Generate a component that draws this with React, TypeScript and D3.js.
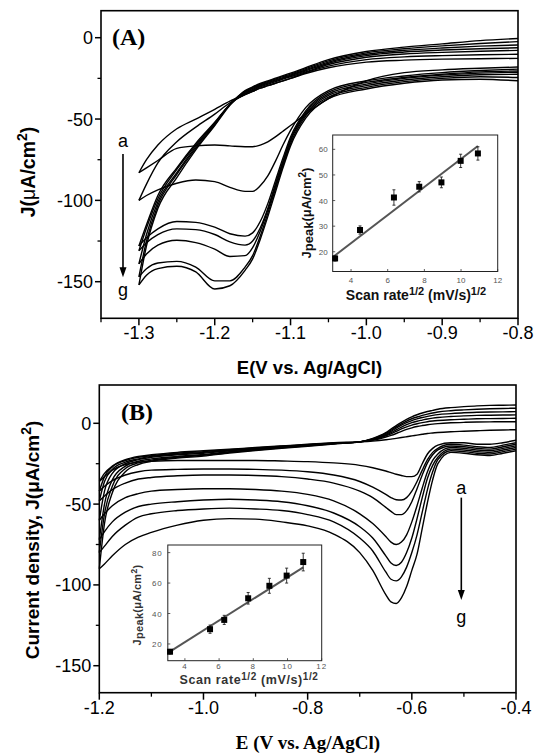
import React from 'react';
import * as d3 from 'd3';

// ---------- Panel A data ----------
const curveNames = ['a', 'b', 'c', 'd', 'e', 'f', 'g'];
const potentialA = [-1.3, -1.29, -1.275, -1.25, -1.225, -1.2, -1.18, -1.16, -1.15, -1.14, -1.13, -1.12, -1.11, -1.1, -1.08, -1.05, -1.0, -0.95, -0.9, -0.85, -0.8];
const forwardA = [
  [-83, -75, -66, -56, -50, -44, -39, -35, -33, -31, -29.5, -28, -26.5, -25, -22, -18.5, -15, -13.8, -13.2, -12.9, -12.7],
  [-100, -90, -77, -64, -55, -47, -40, -35, -33, -31, -29.5, -28, -26.5, -25, -21.5, -17.5, -13.5, -11.8, -11, -10.5, -10.2],
  [-128, -115, -97, -80, -65, -52, -41, -34.5, -32.3, -30.2, -28.6, -27, -25.5, -24, -21, -16.5, -12, -10, -9, -8.3, -7.8],
  [-131, -117, -99, -81, -66, -52.5, -41, -34, -31.8, -29.7, -28, -26.5, -25, -23.5, -20.3, -15.7, -11, -8.8, -7.6, -6.8, -6.2],
  [-139, -121, -101, -83, -67, -53, -41, -33.5, -31.2, -29.1, -27.5, -26, -24.5, -23, -19.7, -15, -10.2, -7.8, -6.3, -5.2, -4.5],
  [-147, -125, -103, -84, -68, -53.5, -41, -33, -30.7, -28.6, -27, -25.4, -23.9, -22.4, -19, -14.2, -9.3, -6.8, -5, -3.6, -2.4],
  [-152, -128, -105, -86, -69, -54, -41.5, -32.5, -30.2, -28.1, -26.5, -24.9, -23.3, -21.8, -18.4, -13.5, -8.5, -5.8, -3.8, -1.8, -0.5],
];
const reverseA = [
  [-83, -80, -75.5, -68, -66.5, -66, -66.5, -67, -67, -66, -64, -61, -57.5, -54, -47, -37.5, -26.5, -21.5, -19.8, -18.8, -18],
  [-100, -97, -93.5, -89.5, -87.5, -88.5, -92, -94.5, -94.5, -91, -85, -76, -66, -57, -43, -32.5, -26.5, -23.5, -21.5, -20.2, -19.3],
  [-128, -123, -117.5, -113, -113.5, -116.5, -120.5, -122, -120, -113, -102, -88, -74, -61, -45, -33.5, -27.5, -24.5, -22.5, -21, -20.5],
  [-131, -126, -121, -117.5, -118, -121, -125.5, -127.5, -125, -117, -105, -90, -76, -62.5, -46, -34.5, -28.5, -25, -23, -21.8, -21.2],
  [-139, -133, -127.5, -124.5, -126, -130, -134.5, -134, -129, -119, -106, -91.5, -77, -63.5, -47, -35.5, -29.5, -26, -24, -22.8, -22.5],
  [-147, -142, -138.5, -137.5, -141, -149.5, -149.5, -141, -134, -122, -108, -93, -78.5, -65, -48, -36.5, -30.5, -27, -25, -24, -24.5],
  [-152, -146, -142, -140.5, -144, -154.5, -152.5, -143, -136, -124, -110, -95, -80, -66.5, -49.5, -37.5, -31.5, -28, -26, -25.5, -26.5],
];

// ---------- Panel B data ----------
const potentialB = [-1.2, -1.19, -1.175, -1.15, -1.125, -1.1, -1.05, -1.0, -0.95, -0.9, -0.85, -0.8, -0.75, -0.7, -0.675, -0.65, -0.64, -0.63, -0.62, -0.61, -0.6, -0.59, -0.58, -0.57, -0.56, -0.55, -0.525, -0.5, -0.475, -0.45, -0.425, -0.4];
const forwardB = [
  [-36, -33, -29, -25.5, -24, -23.5, -23, -23, -23, -23, -23.3, -23.7, -24.5, -26, -27.5, -29.5, -30.5, -31.5, -32.3, -33, -33, -31.5, -25, -19, -15.5, -13.5, -12, -12, -13, -13, -12, -10.5],
  [-42, -39, -35.5, -32, -30, -29, -28.5, -28.3, -28.3, -28.5, -29, -30, -32, -36, -39.5, -44, -46, -47.3, -47.5, -46, -42, -36, -29, -22.5, -18, -15.5, -13, -13.5, -14.5, -15, -13.5, -12],
  [-48, -45, -41, -37, -34.5, -33.5, -32.5, -32, -32, -32.3, -33, -34.5, -37, -42, -46, -52, -54.5, -56.5, -56.5, -54, -48.5, -40.5, -32, -24.5, -19.5, -16.5, -14, -14.5, -15.5, -16, -14.5, -13],
  [-60, -56, -51, -46, -43.5, -42, -41, -40.5, -40.5, -41, -42, -44, -48, -56, -62, -70, -73.5, -75, -73.5, -69, -61, -51, -40, -30, -23, -19, -15, -15.5, -16.5, -17, -15.5, -14],
  [-72, -67, -61, -55, -51.5, -50, -48.5, -47.5, -47, -47.5, -48.5, -51, -55.5, -64, -71, -82, -86.5, -88, -86, -80, -71, -59, -46, -34, -26, -21, -16, -16.5, -17.5, -18, -16.5, -15],
  [-80, -76, -70, -63, -58, -56, -54, -53, -52.5, -53, -54, -56.5, -61, -71, -79, -92, -96.5, -97.5, -95, -89, -80, -69, -55, -41, -30, -22.5, -17, -17.5, -18.5, -19, -17.5, -16],
  [-90, -87, -82, -75, -70.5, -67.5, -63, -60, -59, -59.3, -61, -63.5, -68.5, -80, -91, -106, -110.5, -111.5, -108, -101, -91, -81, -65, -49, -35, -25, -18, -18.5, -19.5, -20, -18.5, -17],
];
const reverseB = [
  [-36, -31, -26.5, -22.5, -20.5, -19.5, -18, -17, -16, -15, -14, -13, -12, -11.5, -11, -10.2, -9.8, -9.3, -8.8, -8.3, -7.8, -7.3, -6.8, -6.3, -6, -5.7, -5.2, -4.9, -4.6, -4.3, -4.1, -4],
  [-42, -33, -27, -23, -21, -20, -18.5, -17.5, -16.3, -15.2, -14.2, -13.2, -12.2, -11.5, -10.5, -8.5, -7.5, -6.3, -5, -3.8, -2.8, -2, -1.4, -0.9, -0.5, -0.2, 0.3, 0.6, 0.8, 0.9, 1, 1],
  [-48, -36, -28.5, -24, -22, -20.5, -19, -18, -16.7, -15.5, -14.4, -13.4, -12.3, -11.5, -10.2, -7.8, -6.5, -5, -3.5, -2.2, -1.1, -0.3, 0.4, 1, 1.4, 1.7, 2.2, 2.5, 2.8, 2.9, 3, 3.1],
  [-60, -42, -31, -25, -22.5, -21, -19.5, -18.5, -17, -15.8, -14.6, -13.6, -12.5, -11.5, -10, -7.3, -5.8, -4, -2.3, -0.8, 0.4, 1.3, 2, 2.7, 3.2, 3.6, 4.2, 4.6, 4.9, 5, 5.1, 5.2],
  [-72, -50, -35, -26.5, -23.5, -22, -20.5, -19.3, -17.6, -16.2, -15, -13.8, -12.6, -11.5, -9.8, -6.8, -5, -3, -1.2, 0.4, 1.7, 2.7, 3.6, 4.3, 4.9, 5.4, 6, 6.5, 6.8, 7, 7.1, 7.2],
  [-80, -56, -39, -28, -24.5, -22.8, -21, -19.8, -18, -16.5, -15.2, -14, -12.7, -11.5, -9.6, -6.3, -4.3, -2.2, -0.3, 1.4, 2.8, 3.9, 4.9, 5.7, 6.4, 7, 7.8, 8.3, 8.7, 9, 9.2, 9.3],
  [-90, -62, -43, -30, -25.5, -23.5, -21.5, -20.3, -18.4, -16.8, -15.4, -14.2, -12.8, -11.5, -9.4, -5.8, -3.6, -1.4, 0.6, 2.4, 4, 5.3, 6.4, 7.3, 8, 8.7, 9.7, 10.3, 10.8, 11.1, 11.2, 11.3],
];

// ---------- Inset data ----------
const sqrtScanA = [3.13, 4.49, 6.34, 7.72, 8.93, 9.98, 10.92];
const jPeakA = [17.4, 28.5, 41.2, 45.4, 47.1, 55.5, 58.4];
const errA = [1, 1.6, 3, 2, 2.1, 2.6, 2.6];
const fitA = [1.45, 5.48]; // intercept, slope
const fitRangeA = [3.03, 10.92];

const sqrtScanB = [3.13, 5.47, 6.3, 7.7, 8.94, 9.95, 10.92];
const jPeakB = [14.9, 29.7, 35.8, 50, 58.2, 64.9, 73.8];
const errB = [1.5, 2.7, 3, 3.8, 4.9, 4.9, 5.8];
const fitB = [-7.2, 7.1];
const fitRangeB = [3.1, 10.92];

// ---------- Ticks ----------
const xTicksA = [-1.3, -1.2, -1.1, -1.0, -0.9, -0.8];
const xMinorA = [-1.35, -1.25, -1.15, -1.05, -0.95, -0.85];
const yTicksA = [0, -50, -100, -150];
const yMinorA = [-25, -75, -125];
const xTicksB = [-1.2, -1.0, -0.8, -0.6, -0.4];
const xMinorB = [-1.1, -0.9, -0.7, -0.5];
const yTicksB = [0, -50, -100, -150];
const yMinorB = [-25, -75, -125];
const insetXTicks = [4, 6, 8, 10, 12];
const insetYTicksA = [20, 30, 40, 50, 60];
const insetYTicksB = [20, 40, 60, 80];

const SANS = "Arial, 'Liberation Sans', Helvetica, sans-serif";
const SERIF = "'Times New Roman', 'Liberation Serif', Times, serif";

type Sc = d3.ScaleLinear<number, number>;

function CVPanel({ x, y, E, fwd, rev }: { x: Sc; y: Sc; E: number[]; fwd: number[][]; rev: number[][] }) {
  const line = d3
    .line<number>()
    .x((_, i) => x(E[i]))
    .y((d) => y(d))
    .curve(d3.curveMonotoneX);
  return (
    <g fill="none" stroke="#000" strokeWidth={1.4} strokeLinejoin="round">
      {fwd.map((c, i) => (
        <path key={'f' + i} d={line(c) || ''} />
      ))}
      {rev.map((c, i) => (
        <path key={'r' + i} d={line(c) || ''} />
      ))}
    </g>
  );
}

function Frame({ x, y, xTicks, xMinor, yTicks, yMinor }: { x: Sc; y: Sc; xTicks: number[]; xMinor: number[]; yTicks: number[]; yMinor: number[] }) {
  const [x0, x1] = x.range();
  const [y0, y1] = y.range();
  return (
    <g>
      <rect x={x0} y={y1} width={x1 - x0} height={y0 - y1} fill="none" stroke="#000" strokeWidth={1.6} />
      {xTicks.map((t) => (
        <g key={'xt' + t}>
          <line x1={x(t)} x2={x(t)} y1={y0} y2={y0 + 7} stroke="#000" strokeWidth={1.5} />
          <text x={x(t)} y={y0 + 21} textAnchor="middle" fontFamily={SANS} fontSize={18}>
            {t.toFixed(1)}
          </text>
        </g>
      ))}
      {xMinor.map((t) => (
        <line key={'xm' + t} x1={x(t)} x2={x(t)} y1={y0} y2={y0 + 4} stroke="#000" strokeWidth={1.3} />
      ))}
      {yTicks.map((t) => (
        <g key={'yt' + t}>
          <line x1={x0} x2={x0 - 6} y1={y(t)} y2={y(t)} stroke="#000" strokeWidth={1.5} />
          <text x={x0 - 8} y={y(t) + 6.5} textAnchor="end" fontFamily={SANS} fontSize={18}>
            {String(t)}
          </text>
        </g>
      ))}
      {yMinor.map((t) => (
        <line key={'ym' + t} x1={x0} x2={x0 - 3.5} y1={y(t)} y2={y(t)} stroke="#000" strokeWidth={1.3} />
      ))}
    </g>
  );
}

function Inset({ x, y, xs, ys, errs, fit, fitRange, yTicks, spaced, labelGap }: { x: Sc; y: Sc; xs: number[]; ys: number[]; errs: number[]; fit: number[]; fitRange: number[]; yTicks: number[]; spaced: boolean; labelGap: number }) {
  const [x0, x1] = x.range();
  const [y0, y1] = y.range();
  const ls = spaced ? 1 : 0;
  return (
    <g>
      <rect x={x0} y={y1} width={x1 - x0} height={y0 - y1} fill="#fff" stroke="#222" strokeWidth={1} />
      {insetXTicks.map((t) => (
        <g key={'ix' + t}>
          <line x1={x(t)} x2={x(t)} y1={y0} y2={y0 - 2.5} stroke="#333" strokeWidth={0.8} />
          <text x={x(t)} y={y0 + labelGap} textAnchor="middle" fontFamily={SANS} fontSize={8} fill="#555" letterSpacing={ls}>
            {t}
          </text>
        </g>
      ))}
      {yTicks.map((t) => (
        <g key={'iy' + t}>
          <line x1={x0} x2={x0 + 2.5} y1={y(t)} y2={y(t)} stroke="#333" strokeWidth={0.8} />
          <text x={x0 - 5} y={y(t) + 3} textAnchor="end" fontFamily={SANS} fontSize={8} fill="#555" letterSpacing={ls}>
            {t}
          </text>
        </g>
      ))}
      <line
        x1={x(fitRange[0])}
        y1={y(fit[0] + fit[1] * fitRange[0])}
        x2={x(fitRange[1])}
        y2={y(fit[0] + fit[1] * fitRange[1])}
        stroke="#555"
        strokeWidth={2}
      />
      {xs.map((v, i) => (
        <g key={'p' + i}>
          <line x1={x(v)} x2={x(v)} y1={y(ys[i] - errs[i])} y2={y(ys[i] + errs[i])} stroke="#222" strokeWidth={0.9} />
          <line x1={x(v) - 1.5} x2={x(v) + 1.5} y1={y(ys[i] - errs[i])} y2={y(ys[i] - errs[i])} stroke="#222" strokeWidth={0.9} />
          <line x1={x(v) - 1.5} x2={x(v) + 1.5} y1={y(ys[i] + errs[i])} y2={y(ys[i] + errs[i])} stroke="#222" strokeWidth={0.9} />
          <rect x={x(v) - 3} y={y(ys[i]) - 3} width={6} height={6} fill="#000" />
        </g>
      ))}
    </g>
  );
}

export default function App() {
  // Panel A scales
  const xA = d3.scaleLinear().domain([-1.35, -0.8]).range([101, 518]);
  const yA = d3.scaleLinear().domain([-172.5, 16.6]).range([318.3, 10.7]);
  // Panel B scales
  const xB = d3.scaleLinear().domain([-1.2, -0.4]).range([99.3, 516]);
  const yB = d3.scaleLinear().domain([-166.7, 23.7]).range([692.7, 385]);
  // Insets
  const ixA = d3.scaleLinear().domain([3, 12]).range([332.7, 497.7]);
  const iyA = d3.scaleLinear().domain([12.3, 65.6]).range([271.5, 135]);
  const ixB = d3.scaleLinear().domain([3, 12]).range([167.8, 321.7]);
  const iyB = d3.scaleLinear().domain([9, 85]).range([660.7, 545]);

  const arrowA = { x: xA(-1.321), y1: yA(-71.5), y2: yA(-147.2) };
  const arrowB = { x: xB(-0.505), y1: yB(-46), y2: yB(-109.3) };

  return (
    <svg width={534} height={756} style={{ position: 'absolute', left: 0, top: 0, background: '#fff' }}>
      <rect width={534} height={756} fill="#fff" />

      {/* ---------- Panel A ---------- */}
      <CVPanel x={xA} y={yA} E={potentialA} fwd={forwardA} rev={reverseA} />
      <Frame x={xA} y={yA} xTicks={xTicksA} xMinor={xMinorA} yTicks={yTicksA} yMinor={yMinorA} />
      <text x={112} y={45} fontFamily={SERIF} fontWeight="bold" fontSize={24}>(A)</text>
      <text x={arrowA.x} y={yA(-66.9)} textAnchor="middle" fontFamily={SANS} fontSize={18}>{curveNames[0]}</text>
      <line x1={arrowA.x} x2={arrowA.x} y1={arrowA.y1} y2={arrowA.y2 - 8} stroke="#000" strokeWidth={1.6} />
      <path d={`M${arrowA.x - 3.5},${arrowA.y2 - 10} L${arrowA.x + 3.5},${arrowA.y2 - 10} L${arrowA.x},${arrowA.y2} Z`} fill="#000" />
      <text x={arrowA.x} y={yA(-159)} textAnchor="middle" fontFamily={SANS} fontSize={18}>{curveNames[6]}</text>
      <text x={309.5} y={373.5} textAnchor="middle" fontFamily={SANS} fontWeight="bold" fontSize={18.5}>
        E(V vs. Ag/AgCl)
      </text>
      <text transform="translate(35,172) rotate(-90)" textAnchor="middle" fontFamily={SANS} fontWeight="bold" fontSize={19.5}>
        J(<tspan fontWeight="normal">μ</tspan>A/cm<tspan dy={-8} fontSize={14}>2</tspan><tspan dy={8}>)</tspan>
      </text>

      <Inset x={ixA} y={iyA} xs={sqrtScanA} ys={jPeakA} errs={errA} fit={fitA} fitRange={fitRangeA} yTicks={insetYTicksA} spaced={false} labelGap={11.5} />
      <text x={416} y={300} textAnchor="middle" fontFamily={SANS} fontWeight="bold" fontSize={14} fill="#111">
        Scan rate<tspan fontSize={11} dy={-5}>1/2</tspan><tspan dy={5}> (mV/s)</tspan><tspan fontSize={11} dy={-5}>1/2</tspan>
      </text>
      <text transform="translate(311,213) rotate(-90)" textAnchor="middle" fontFamily={SANS} fontWeight="bold" fontSize={13} fill="#111">
        J<tspan dy={2}>peak</tspan><tspan dy={-2}>(μA/cm</tspan><tspan dy={-5} fontSize={10}>2</tspan><tspan dy={5}>)</tspan>
      </text>

      {/* ---------- Panel B ---------- */}
      <CVPanel x={xB} y={yB} E={potentialB} fwd={forwardB} rev={reverseB} />
      <Frame x={xB} y={yB} xTicks={xTicksB} xMinor={xMinorB} yTicks={yTicksB} yMinor={yMinorB} />
      <text x={121} y={420} fontFamily={SERIF} fontWeight="bold" fontSize={24}>(B)</text>
      <text x={arrowB.x} y={yB(-43.7)} textAnchor="middle" fontFamily={SANS} fontSize={18}>{curveNames[0]}</text>
      <line x1={arrowB.x} x2={arrowB.x} y1={arrowB.y1} y2={arrowB.y2 - 8} stroke="#000" strokeWidth={1.6} />
      <path d={`M${arrowB.x - 3.5},${arrowB.y2 - 10} L${arrowB.x + 3.5},${arrowB.y2 - 10} L${arrowB.x},${arrowB.y2} Z`} fill="#000" />
      <text x={arrowB.x} y={yB(-123.4)} textAnchor="middle" fontFamily={SANS} fontSize={18}>{curveNames[6]}</text>
      <text x={308} y={749} textAnchor="middle" fontFamily={SERIF} fontWeight="bold" fontSize={19}>
        E (V vs. Ag/AgCl)
      </text>
      <text transform="translate(39,540) rotate(-90)" textAnchor="middle" fontFamily={SANS} fontWeight="bold" fontSize={19}>
        Current density, J(μA/cm<tspan dy={-8} fontSize={14}>2</tspan><tspan dy={8}>)</tspan>
      </text>

      <Inset x={ixB} y={iyB} xs={sqrtScanB} ys={jPeakB} errs={errB} fit={fitB} fitRange={fitRangeB} yTicks={insetYTicksB} spaced={true} labelGap={8} />
      <text x={249} y={684} textAnchor="middle" fontFamily={SANS} fontWeight="bold" fontSize={12.5} fill="#333" letterSpacing={0.6}>
        Scan rate<tspan fontSize={10} dy={-4}>1/2</tspan><tspan dy={4}> (mV/s)</tspan><tspan fontSize={10} dy={-4}>1/2</tspan>
      </text>
      <text transform="translate(141,605) rotate(-90)" textAnchor="middle" fontFamily={SANS} fontWeight="bold" fontSize={11} fill="#333" letterSpacing={0.3}>
        J<tspan dy={1.5}>peak</tspan><tspan dy={-1.5}>(μA/cm</tspan><tspan dy={-4} fontSize={8.5}>2</tspan><tspan dy={4}>)</tspan>
      </text>
    </svg>
  );
}
